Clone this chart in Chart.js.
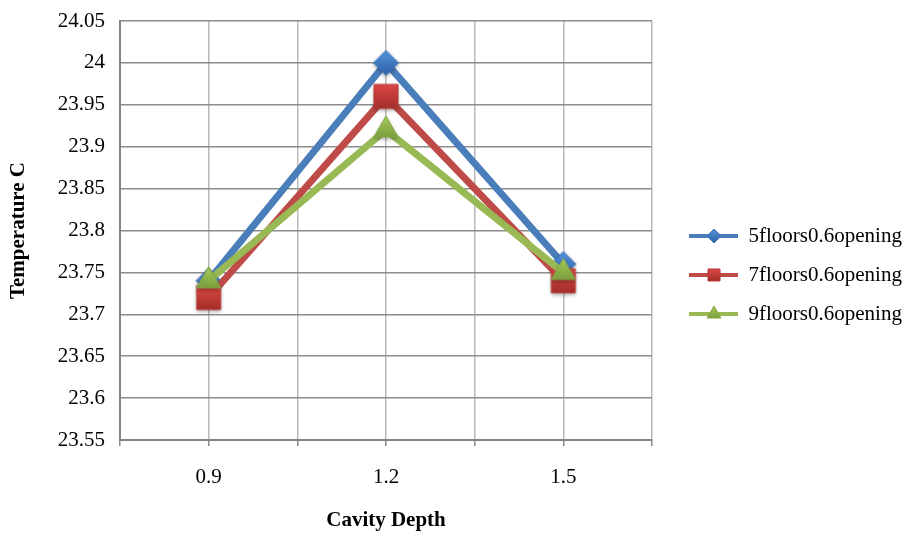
<!DOCTYPE html>
<html>
<head>
<meta charset="utf-8">
<script src="https://cdn.jsdelivr.net/npm/chart.js@4.4.1/dist/chart.umd.min.js"></script>
<style>
  html, body { margin: 0; padding: 0; background: #fff; }
</style>
</head>
<body>
<canvas id="myChart" width="908" height="534"></canvas>
<script>
// cavity depth (x) and mean temperature for each building height
const depths = [0.9, 1.2, 1.5];
const temp5floors = [23.74, 24.00, 23.76];
const temp7floors = [23.72, 23.96, 23.74];
const temp9floors = [23.74, 23.92, 23.75];
const seriesNames = ['5floors0.6opening', '7floors0.6opening', '9floors0.6opening'];

// tick values for both axes
const yTicks = [23.55, 23.6, 23.65, 23.7, 23.75, 23.8, 23.85, 23.9, 23.95, 24, 24.05];
const xTicks = [0.75, 0.9, 1.05, 1.2, 1.35, 1.5, 1.65];

const SERIF = '"Liberation Serif", "Times New Roman", serif';
Chart.defaults.font.family = SERIF;
Chart.defaults.color = '#000';

// draws a marker shape into ctx centred on (cx, cy)
function shapePath(ctx, shape, cx, cy, r) {
    ctx.beginPath();
    if (shape === 'diamond') {
        ctx.moveTo(cx, cy - r);
        ctx.lineTo(cx + r, cy);
        ctx.lineTo(cx, cy + r);
        ctx.lineTo(cx - r, cy);
    } else if (shape === 'square') {
        ctx.rect(cx - r, cy - r, 2 * r, 2 * r);
    } else {
        // triangle, centroid on (cx, cy)
        ctx.moveTo(cx, cy - r);
        ctx.lineTo(cx + r * 0.866, cy + r / 2);
        ctx.lineTo(cx - r * 0.866, cy + r / 2);
    }
    ctx.closePath();
}

// glossy marker with a soft shadow, used as pointStyle image
function makeMarker(shape, light, dark, edge, r) {
    const size = Math.ceil(2 * r) + 12;
    const c = document.createElement('canvas');
    c.width = size;
    c.height = size;
    const ctx = c.getContext('2d');
    const m = size / 2;
    const g = ctx.createLinearGradient(0, m - r, 0, m + r);
    g.addColorStop(0, light);
    g.addColorStop(1, dark);
    ctx.save();
    ctx.shadowColor = 'rgba(0,0,0,0.35)';
    ctx.shadowBlur = 4;
    ctx.shadowOffsetY = 2;
    shapePath(ctx, shape, m, m, r);
    ctx.fillStyle = g;
    ctx.fill();
    ctx.restore();
    shapePath(ctx, shape, m, m, r);
    ctx.lineWidth = 1;
    ctx.strokeStyle = edge;
    ctx.stroke();
    return c;
}

// legend sample: a short line with the marker in the middle
function makeLegendIcon(shape, lineColor, light, dark, edge, r) {
    const c = document.createElement('canvas');
    c.width = 68;
    c.height = 20;
    const ctx = c.getContext('2d');
    ctx.strokeStyle = lineColor;
    ctx.lineWidth = 4;
    ctx.beginPath();
    ctx.moveTo(19, 10);
    ctx.lineTo(68, 10);
    ctx.stroke();
    const g = ctx.createLinearGradient(0, 10 - r, 0, 10 + r);
    g.addColorStop(0, light);
    g.addColorStop(1, dark);
    shapePath(ctx, shape, 44, 10, r);
    ctx.fillStyle = g;
    ctx.fill();
    ctx.strokeStyle = edge;
    ctx.lineWidth = 1;
    ctx.stroke();
    return c;
}

const styles = [
    { shape: 'diamond', line: '#4a7ebb', light: '#5592dc', dark: '#2d61a6', edge: '#3a6fb5', r: 12.5, lr: 7 },
    { shape: 'square', line: '#be4b48', light: '#dc4843', dark: '#a32e2a', edge: '#b83a36', r: 12, lr: 6 },
    { shape: 'triangle', line: '#98b954', light: '#a6cb5b', dark: '#6c8f31', edge: '#86a947', r: 14, lr: 8 }
];
const allSeries = [temp5floors, temp7floors, temp9floors];

function drawChart() {
    const legendIcons = styles.map(s => makeLegendIcon(s.shape, s.line, s.light, s.dark, s.edge, s.lr));

    const datasets = allSeries.map((values, i) => {
        const s = styles[i];
        return {
            label: seriesNames[i],
            data: depths.map((x, j) => ({ x: x, y: values[j] })),
            borderColor: s.line,
            backgroundColor: s.line,
            borderWidth: 7,
            borderJoinStyle: 'round',
            pointStyle: makeMarker(s.shape, s.light, s.dark, s.edge, s.r),
            pointRadius: s.r,
            order: 3 - i,
            clip: false
        };
    });

    new Chart("myChart", {
        type: "line",
        data: { datasets: datasets },
        options: {
            responsive: false,
            animation: false,
            devicePixelRatio: 1,
            layout: { padding: { top: 16, right: 0, bottom: 0, left: 0 } },
            scales: {
                x: {
                    type: 'linear',
                    min: 0.75,
                    max: 1.65,
                    afterBuildTicks: scale => { scale.ticks = xTicks.map(v => ({ value: v })); },
                    afterFit: scale => { scale.height = 94; },
                    ticks: {
                        autoSkip: false,
                        maxRotation: 0,
                        padding: 19,
                        font: { family: SERIF, size: 21 },
                        color: '#000',
                        callback: v => depths.includes(v) ? String(v) : ''
                    },
                    grid: { color: '#b8b8b8', lineWidth: 1.5, tickLength: 6, tickColor: '#8a8a8a' },
                    border: { color: '#858585', width: 2 },
                    title: {
                        display: true,
                        text: 'Cavity Depth',
                        color: '#000',
                        font: { family: SERIF, size: 21, weight: 'bold' },
                        padding: { top: 0, bottom: 1 }
                    }
                },
                y: {
                    min: 23.55,
                    max: 24.05,
                    afterBuildTicks: scale => { scale.ticks = yTicks.map(v => ({ value: v })); },
                    // fixed axis width; label overhang is covered by the layout padding
                    afterFit: scale => {
                        scale.width = 120;
                        scale.paddingTop = 0;
                        scale.paddingBottom = 0;
                    },
                    ticks: {
                        padding: 15,
                        font: { family: SERIF, size: 21 },
                        color: '#000',
                        callback: v => String(v)
                    },
                    grid: { color: '#8c8c8c', lineWidth: 1.5, drawTicks: false },
                    border: { color: '#858585', width: 2 },
                    title: {
                        display: true,
                        text: 'Temperature C',
                        color: '#000',
                        font: { family: SERIF, size: 21, weight: 'bold' },
                        padding: { top: 6, bottom: 0 }
                    }
                }
            },
            plugins: {
                legend: {
                    display: true,
                    position: 'right',
                    maxWidth: 256,
                    labels: {
                        usePointStyle: true,
                        pointStyleWidth: 68,
                        padding: 18,
                        font: { family: SERIF, size: 21 },
                        color: '#000',
                        generateLabels: chart => chart.data.datasets.map((ds, i) => ({
                            text: ds.label,
                            pointStyle: legendIcons[i],
                            datasetIndex: i,
                            fontColor: '#000',
                            fillStyle: ds.borderColor,
                            strokeStyle: ds.borderColor,
                            lineWidth: 0,
                            hidden: false
                        }))
                    }
                },
                tooltip: { enabled: false }
            }
        }
    });
}

// make sure the serif face is ready before text gets measured
Promise.all([
    document.fonts.load('21px "Liberation Serif"'),
    document.fonts.load('bold 21px "Liberation Serif"')
]).then(drawChart, drawChart);
</script>
</body>
</html>
